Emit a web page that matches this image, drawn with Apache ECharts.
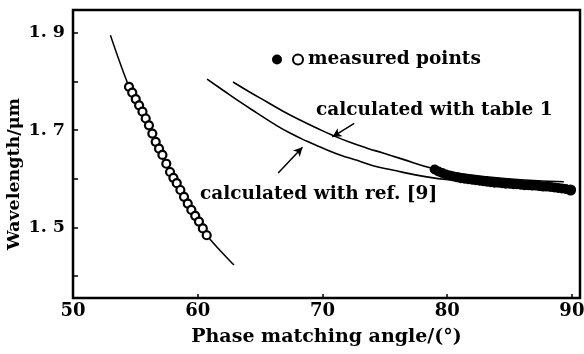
<!DOCTYPE html>
<html><head><meta charset="utf-8">
<script src="https://cdn.jsdelivr.net/npm/echarts@6/dist/echarts.min.js"></script>
<style>html,body{margin:0;padding:0;background:#fff}#c{width:584px;height:354px}</style>
</head><body><div id="c"></div>
<script>
// ---- data ----
const xTicks = [50, 60, 70, 80, 90];
const yTicks = [1.4, 1.5, 1.6, 1.7, 1.8, 1.9];
const yLabelValues = [1.5, 1.7, 1.9];

// left theoretical curve
const leftCurveX = [53.0, 54.5, 56.0, 57.5, 59.0, 60.7, 62.9];
const leftCurveY = [1.895, 1.789, 1.712, 1.633, 1.558, 1.485, 1.423];

// open-circle measured points
const openX = [54.49, 54.75, 55.03, 55.30, 55.57, 55.83, 56.09, 56.36, 56.63, 56.90, 57.17, 57.48, 57.78, 58.05, 58.32, 58.61, 58.90, 59.20, 59.49, 59.80, 60.10, 60.41, 60.72];
const openY = [1.789, 1.777, 1.764, 1.751, 1.738, 1.724, 1.710, 1.693, 1.676, 1.662, 1.649, 1.631, 1.614, 1.602, 1.591, 1.577, 1.563, 1.549, 1.536, 1.524, 1.512, 1.498, 1.484];

// calculated with table 1 (upper right curve)
const tableX = [62.83, 64.19, 65.56, 66.84, 68.20, 69.57, 70.85, 72.21, 73.58, 74.86, 76.22, 78.87, 80.5, 83.2, 85.9, 89.35];
const tableY = [1.799, 1.778, 1.758, 1.739, 1.721, 1.704, 1.689, 1.675, 1.663, 1.653, 1.642, 1.621, 1.613, 1.604, 1.598, 1.594];

// calculated with ref. [9] (lower right curve)
const refX = [60.75, 62.03, 63.39, 64.76, 66.04, 67.40, 68.77, 70.05, 71.41, 72.77, 74.06, 75.42, 78.36, 81.0, 84.0, 87.0, 89.1];
const refY = [1.805, 1.782, 1.758, 1.735, 1.714, 1.694, 1.677, 1.663, 1.649, 1.638, 1.627, 1.619, 1.604, 1.596, 1.589, 1.584, 1.581];

// filled measured points
const filledX = [79.0, 79.3, 79.6, 79.9, 80.2, 80.5, 80.8, 81.1, 81.4, 81.7, 82.0, 82.3, 82.6, 82.9, 83.2, 83.5, 83.8, 84.1, 84.4, 84.7, 85.0, 85.3, 85.6, 85.9, 86.2, 86.5, 86.8, 87.1, 87.4, 87.7, 88.0, 88.3, 88.6, 88.9, 89.2, 89.5, 89.9];
const filledY = [1.619, 1.615, 1.612, 1.609, 1.607, 1.605, 1.603, 1.601, 1.600, 1.599, 1.598, 1.597, 1.596, 1.595, 1.594, 1.593, 1.592, 1.592, 1.591, 1.590, 1.590, 1.589, 1.589, 1.588, 1.587, 1.587, 1.586, 1.586, 1.585, 1.584, 1.584, 1.583, 1.582, 1.581, 1.580, 1.579, 1.577];

// arrow annotations (data coordinates: tail -> head)
const arrowTable = [[72.55, 1.714], [70.8, 1.686]];
const arrowRef = [[66.45, 1.612], [68.4, 1.665]];

const zip = (xs, ys) => xs.map((x, i) => [x, ys[i]]);
const FONT = 'DejaVu Serif';

const chart = echarts.init(document.getElementById('c'), null, {renderer: 'canvas'});
chart.setOption({
  animation: false,
  backgroundColor: '#fff',
  textStyle: {fontFamily: FONT},
  grid: {left: 73, right: 4, top: 10, bottom: 56, show: true, borderColor: '#000', borderWidth: 2.5,
    containLabel: false, outerBoundsMode: 'none'},
  xAxis: {
    type: 'value', min: 50, max: 90.65,
    axisLine: {show: false}, splitLine: {show: false},
    axisTick: {inside: true, length: 4, lineStyle: {color: '#000', width: 1.5}, customValues: xTicks},
    axisLabel: {customValues: xTicks, color: '#000', fontFamily: FONT, fontWeight: 'bold', fontSize: 18, margin: 4},
    name: 'Phase matching angle/(°)', nameLocation: 'middle', nameGap: 30, nameMoveOverlap: false,
    nameTextStyle: {color: '#000', fontFamily: FONT, fontWeight: 'bold', fontSize: 19}
  },
  yAxis: {
    type: 'value', min: 1.355, max: 1.947,
    axisLine: {show: false}, splitLine: {show: false},
    axisTick: {inside: true, length: 5, lineStyle: {color: '#000', width: 1.5}, customValues: yTicks},
    axisLabel: {customValues: yLabelValues, color: '#000', fontFamily: FONT, fontWeight: 'bold', fontSize: 17.5, margin: 8,
      formatter: v => v.toFixed(1).replace('.', '. ')},
    name: 'Wavelength/μm', nameLocation: 'middle', nameGap: 50, nameMoveOverlap: false,
    nameTextStyle: {color: '#000', fontFamily: FONT, fontWeight: 'bold', fontSize: 17.5, padding: [0, 40, 0, 0]}
  },
  legend: {
    left: 267, top: 45, itemGap: 10, itemWidth: 10, itemHeight: 10, selectedMode: false,
    data: [
      {name: 'measured (filled)', icon: 'circle'},
      {name: 'measured points', icon: 'circle'}
    ],
    formatter: n => n === 'measured points' ? n : '',
    textStyle: {color: '#000', fontFamily: FONT, fontWeight: 'bold', fontSize: 18.5}
  },
  graphic: [
    {type: 'text', left: 316, top: 101, style: {text: 'calculated with table 1', font: 'bold 18.5px "DejaVu Serif"', fill: '#000'}},
    {type: 'text', left: 200, top: 185, style: {text: 'calculated with ref. [9]', font: 'bold 18.5px "DejaVu Serif"', fill: '#000'}}
  ],
  series: [
    {
      name: 'left curve', type: 'line', data: zip(leftCurveX, leftCurveY), smooth: 0.3,
      showSymbol: false, lineStyle: {color: '#000', width: 1.5}, z: 2
    },
    {
      name: 'measured points', type: 'scatter', data: zip(openX, openY), symbol: 'circle', symbolSize: 8,
      itemStyle: {color: '#fff', borderColor: '#000', borderWidth: 2.2, opacity: 1}, z: 3
    },
    {
      name: 'measured (filled)', type: 'scatter', data: zip(filledX, filledY), symbol: 'circle',
      symbolSize: (v, p) => p.dataIndex === filledX.length - 1 ? 11 : 10,
      itemStyle: {color: '#000', opacity: 1}, z: 2
    },
    {
      name: 'table 1', type: 'line', data: zip(tableX, tableY), smooth: 0.5,
      showSymbol: false, lineStyle: {color: '#000', width: 1.6}, z: 4,
      markLine: {silent: true, symbol: ['none', 'arrow'], symbolSize: [7, 9], label: {show: false},
        lineStyle: {color: '#000', width: 1.5, type: 'solid'},
        data: [[{coord: arrowTable[0]}, {coord: arrowTable[1]}]]}
    },
    {
      name: 'ref 9', type: 'line', data: zip(refX, refY), smooth: 0.5,
      showSymbol: false, lineStyle: {color: '#000', width: 1.6}, z: 4,
      markLine: {silent: true, symbol: ['none', 'arrow'], symbolSize: [7, 9], label: {show: false},
        lineStyle: {color: '#000', width: 1.5, type: 'solid'},
        data: [[{coord: arrowRef[0]}, {coord: arrowRef[1]}]]}
    }
  ]
});
</script>
</body></html>
